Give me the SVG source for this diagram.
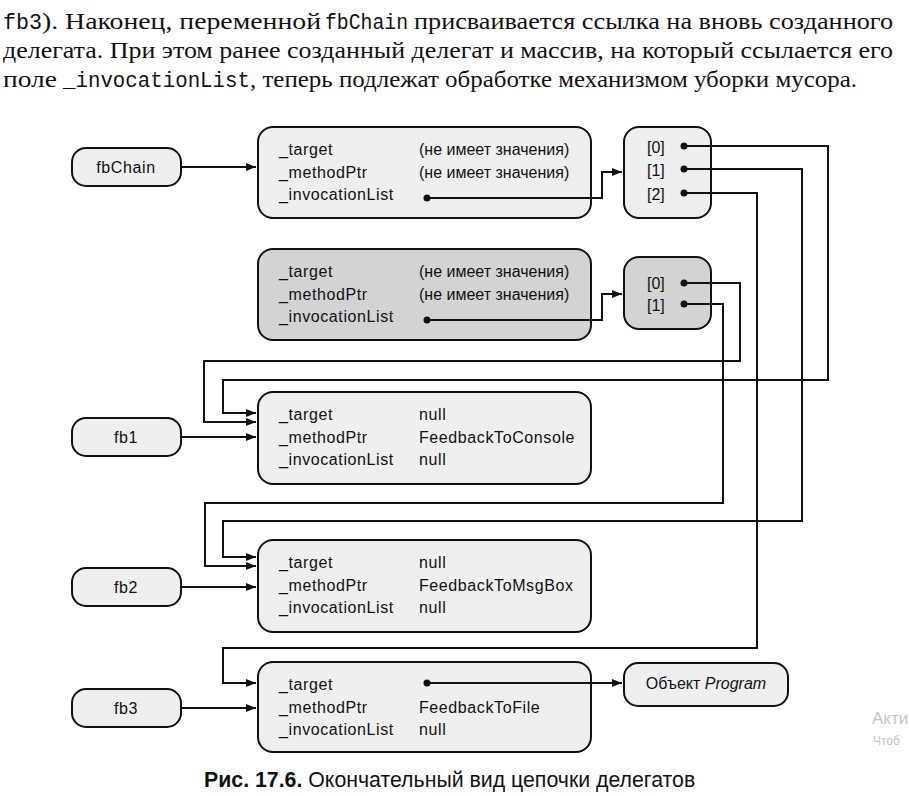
<svg xmlns="http://www.w3.org/2000/svg" width="909" height="796" viewBox="0 0 909 796">
<style>
.box{fill:#efefef;stroke:#111;stroke-width:2}
.grey{fill:#d3d3d4;stroke:#111;stroke-width:2}
.t{font-family:"Liberation Sans",Arial,sans-serif;font-size:16px;fill:#111}
.l{letter-spacing:0.6px}
.c{text-anchor:middle}
.ln{fill:none;stroke:#111;stroke-width:2}
.dot{fill:#111}
.body{font-family:"Liberation Serif","Times New Roman",serif;font-size:24px;fill:#111}
.mono{font-family:"Liberation Mono","DejaVu Sans Mono",monospace;font-size:22px;fill:#111}
.cap{font-family:"Liberation Sans",Arial,sans-serif;font-size:21.3px;fill:#111}
.wm{font-family:"Liberation Sans",Arial,sans-serif;fill:#c4c4c4}
</style>
<defs>
<marker id="arr" markerUnits="userSpaceOnUse" markerWidth="12" markerHeight="10" refX="10" refY="4" orient="auto"><path d="M0,0 L10,4 L0,8 z" fill="#111"/></marker>
</defs>
<rect width="909" height="796" fill="#fff"/>
<g id="paragraph">
<text class="mono" x="3" y="29" textLength="39" lengthAdjust="spacingAndGlyphs">fb3</text>
<text class="body" x="42" y="29" textLength="279" lengthAdjust="spacingAndGlyphs">). Наконец, переменной</text>
<text class="mono" x="325" y="29" textLength="83" lengthAdjust="spacingAndGlyphs">fbChain</text>
<text class="body" x="414" y="29" textLength="479" lengthAdjust="spacingAndGlyphs">присваивается ссылка на вновь созданного</text>
<text class="body" x="3" y="58" textLength="890" lengthAdjust="spacingAndGlyphs">делегата. При этом ранее созданный делегат и массив, на который ссылается его</text>
<text class="body" x="3" y="87" textLength="54" lengthAdjust="spacingAndGlyphs">поле</text>
<text class="mono" x="63" y="87" textLength="187" lengthAdjust="spacingAndGlyphs">_invocationList</text>
<text class="body" x="250" y="87" textLength="607" lengthAdjust="spacingAndGlyphs">, теперь подлежат обработке механизмом уборки мусора.</text>
</g>
<g id="fbChain">
<rect class="box" x="72" y="148" width="109" height="38" rx="14"/>
<text class="t l c" x="126" y="173">fbChain</text>
</g>
<g id="delegateChain">
<rect class="box" x="258" y="127" width="333" height="91" rx="15"/>
<text class="t l" x="279" y="155">_target</text>
<text class="t l" x="279" y="178">_methodPtr</text>
<text class="t l" x="279" y="200">_invocationList</text>
<text class="t" x="419" y="155">(не имеет значения)</text>
<text class="t" x="419" y="178">(не имеет значения)</text>
<circle class="dot" cx="427" cy="198" r="3.5"/>
</g>
<g id="array3">
<rect class="box" x="624" y="127" width="87" height="91" rx="15"/>
<text class="t" x="647" y="153">[0]</text>
<text class="t" x="647" y="176">[1]</text>
<text class="t" x="647" y="200">[2]</text>
<circle class="dot" cx="684" cy="146" r="3.5"/>
<circle class="dot" cx="684" cy="169" r="3.5"/>
<circle class="dot" cx="684" cy="193" r="3.5"/>
</g>
<g id="delegateOld">
<rect class="grey" x="258" y="249" width="333" height="91" rx="15"/>
<text class="t l" x="279" y="277">_target</text>
<text class="t l" x="279" y="300">_methodPtr</text>
<text class="t l" x="279" y="322">_invocationList</text>
<text class="t" x="419" y="277">(не имеет значения)</text>
<text class="t" x="419" y="300">(не имеет значения)</text>
<circle class="dot" cx="427" cy="320" r="3.5"/>
</g>
<g id="array2">
<rect class="grey" x="624" y="257" width="87" height="72" rx="15"/>
<text class="t" x="647" y="289">[0]</text>
<text class="t" x="647" y="311">[1]</text>
<circle class="dot" cx="684" cy="283" r="3.5"/>
<circle class="dot" cx="684" cy="304" r="3.5"/>
</g>
<g id="fb1">
<rect class="box" x="72" y="418" width="109" height="38" rx="14"/>
<text class="t l c" x="126" y="443">fb1</text>
</g>
<g id="delegate1">
<rect class="box" x="258" y="392" width="333" height="92" rx="15"/>
<text class="t l" x="279" y="420">_target</text>
<text class="t l" x="279" y="443">_methodPtr</text>
<text class="t l" x="279" y="465">_invocationList</text>
<text class="t l" x="419" y="420">null</text>
<text class="t l" x="419" y="443">FeedbackToConsole</text>
<text class="t l" x="419" y="465">null</text>
</g>
<g id="fb2">
<rect class="box" x="72" y="568" width="109" height="38" rx="14"/>
<text class="t l c" x="126" y="593">fb2</text>
</g>
<g id="delegate2">
<rect class="box" x="258" y="540" width="333" height="92" rx="15"/>
<text class="t l" x="279" y="568">_target</text>
<text class="t l" x="279" y="591">_methodPtr</text>
<text class="t l" x="279" y="613">_invocationList</text>
<text class="t l" x="419" y="568">null</text>
<text class="t l" x="419" y="591">FeedbackToMsgBox</text>
<text class="t l" x="419" y="613">null</text>
</g>
<g id="fb3">
<rect class="box" x="72" y="689" width="109" height="38" rx="14"/>
<text class="t l c" x="126" y="714">fb3</text>
</g>
<g id="delegate3">
<rect class="box" x="258" y="662" width="333" height="90" rx="15"/>
<text class="t l" x="279" y="690">_target</text>
<text class="t l" x="279" y="713">_methodPtr</text>
<text class="t l" x="279" y="735">_invocationList</text>
<text class="t l" x="419" y="713">FeedbackToFile</text>
<text class="t l" x="419" y="735">null</text>
<circle class="dot" cx="427" cy="683" r="3.5"/>
</g>
<g id="program">
<rect class="box" x="624" y="663" width="164" height="43" rx="14"/>
<text class="t c" x="706" y="689">Объект <tspan font-style="italic">Program</tspan></text>
</g>
<g id="connectors">
<path class="ln" d="M181,167 H256" marker-end="url(#arr)"/>
<path class="ln" d="M427,198 H602 V172 H622" marker-end="url(#arr)"/>
<path class="ln" d="M427,320 H602 V294 H622" marker-end="url(#arr)"/>
<path class="ln" d="M684,146 H828 V380 H223 V413 H256" marker-end="url(#arr)"/>
<path class="ln" d="M684,283 H740 V361 H204 V422 H256" marker-end="url(#arr)"/>
<path class="ln" d="M684,169 H802 V521 H223 V557 H256" marker-end="url(#arr)"/>
<path class="ln" d="M684,304 H723 V503 H205 V566 H256" marker-end="url(#arr)"/>
<path class="ln" d="M684,193 H757 V648 H223 V683 H256" marker-end="url(#arr)"/>
<path class="ln" d="M181,437 H256" marker-end="url(#arr)"/>
<path class="ln" d="M181,587 H256" marker-end="url(#arr)"/>
<path class="ln" d="M181,708 H256" marker-end="url(#arr)"/>
<path class="ln" d="M427,683 H622" marker-end="url(#arr)"/>
</g>
<g id="caption">
<text class="cap" x="204" y="787"><tspan font-weight="bold">Рис. 17.6.</tspan> Окончательный вид цепочки делегатов</text>
</g>
<g id="watermark">
<text class="wm" x="872" y="724" font-size="17">Акти</text>
<text class="wm" x="873" y="745" font-size="12">Чтоб</text>
</g>
</svg>
